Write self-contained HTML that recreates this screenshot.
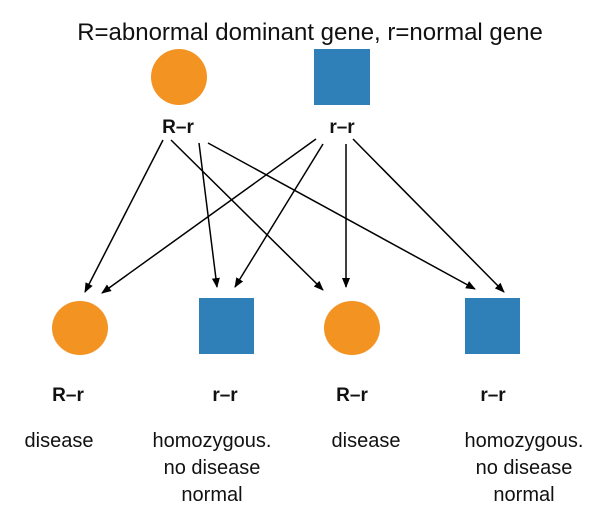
<!DOCTYPE html>
<html><head><meta charset="utf-8"><style>
html,body{margin:0;padding:0;background:#fff;}
svg{display:block;}
text{font-family:"Liberation Sans",sans-serif;fill:#111;}
</style></head><body>
<svg width="609" height="520" viewBox="0 0 609 520" xmlns="http://www.w3.org/2000/svg">
<defs>
<marker id="a" markerWidth="10" markerHeight="10" refX="9" refY="5" orient="auto" markerUnits="userSpaceOnUse">
<path d="M0,1 L10,5 L0,9 z" fill="#000"/>
</marker>
</defs>
<text x="310" y="40" font-size="24" text-anchor="middle" style="font-weight:300">R=abnormal dominant gene, r=normal gene</text>
<ellipse cx="179" cy="77" rx="28" ry="28" fill="#f39322"/>
<rect x="314" y="49" width="56" height="56" fill="#2f7fb8"/>
<text x="178" y="133" font-size="19" font-weight="bold" text-anchor="middle">R–r</text>
<text x="342" y="133" font-size="19" font-weight="bold" text-anchor="middle">r–r</text>
<g stroke="#000" stroke-width="1.5" marker-end="url(#a)">
<line x1="163" y1="140" x2="85" y2="292"/>
<line x1="171" y1="140" x2="323" y2="290"/>
<line x1="199" y1="143" x2="217" y2="287"/>
<line x1="208" y1="143" x2="475" y2="289"/>
<line x1="316" y1="139" x2="102" y2="293"/>
<line x1="323" y1="144" x2="235" y2="287"/>
<line x1="346" y1="144" x2="346" y2="287"/>
<line x1="353" y1="139" x2="504" y2="292"/>
</g>
<ellipse cx="80" cy="328" rx="28" ry="27" fill="#f39322"/>
<rect x="199" y="298" width="55" height="56" fill="#2f7fb8"/>
<ellipse cx="352" cy="328" rx="28" ry="27" fill="#f39322"/>
<rect x="465" y="298" width="55" height="56" fill="#2f7fb8"/>
<g font-size="19" font-weight="bold" text-anchor="middle">
<text x="68" y="401">R–r</text>
<text x="225" y="401">r–r</text>
<text x="352" y="401">R–r</text>
<text x="493" y="401">r–r</text>
</g>
<g font-size="20" text-anchor="middle">
<text x="59" y="447">disease</text>
<text x="212" y="447">homozygous.</text>
<text x="212" y="474">no disease</text>
<text x="212" y="501">normal</text>
<text x="366" y="447">disease</text>
<text x="524" y="447">homozygous.</text>
<text x="524" y="474">no disease</text>
<text x="524" y="501">normal</text>
</g>
</svg>
</body></html>
